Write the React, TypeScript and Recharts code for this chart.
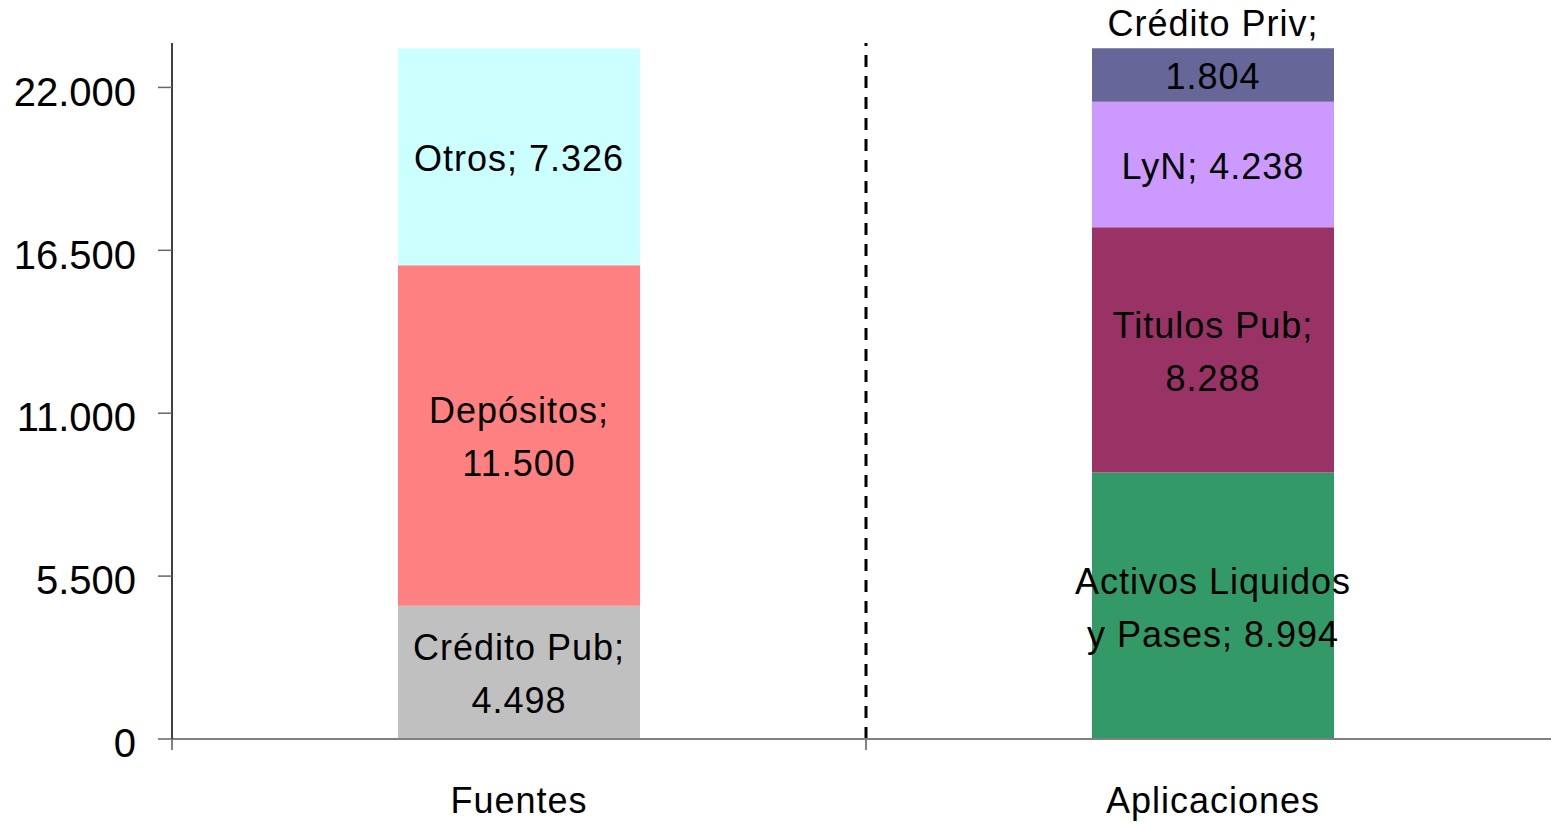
import { BarChart, Bar, XAxis, YAxis, ReferenceLine, LabelList } from 'recharts';

const categories = ['Fuentes', 'Aplicaciones'];

const fuentesSeries = ['Crédito Pub', 'Depósitos', 'Otros'];
const fuentesValues = [4498, 11500, 7326];
const fuentesColors = ['#C0C0C0', '#FF8080', '#CCFFFF'];

const aplicacionesSeries = ['Activos Liquidos y Pases', 'Titulos Pub', 'LyN', 'Crédito Priv'];
const aplicacionesValues = [8994, 8288, 4238, 1804];
const aplicacionesColors = ['#339966', '#993366', '#CC99FF', '#666699'];

// words kept on the first line of each data label (0 = single line)
const fuentesWrap = [2, 1, 0];
const aplicacionesWrap = [2, 2, 0, 2];

const yTicks = [0, 5500, 11000, 16500, 22000];

const fmt = (v: number) => String(v).replace(/\B(?=(\d{3})+(?!\d))/g, '.');

type Serie = { name: string; color: string; wrap: number };

const series: Serie[] = [
  ...fuentesSeries.map((name, i) => ({ name, color: fuentesColors[i], wrap: fuentesWrap[i] })),
  ...aplicacionesSeries.map((name, i) => ({ name, color: aplicacionesColors[i], wrap: aplicacionesWrap[i] })),
];

const data = categories.map((cat, ci) => {
  const row: Record<string, string | number> = { name: cat };
  fuentesSeries.forEach((s, i) => (row[s] = ci === 0 ? fuentesValues[i] : 0));
  aplicacionesSeries.forEach((s, i) => (row[s] = ci === 1 ? aplicacionesValues[i] : 0));
  return row;
});

const LINE_H = 53;

const makeLabel = (s: Serie) => (props: any) => {
  const x = Number(props.x ?? props.viewBox?.x);
  const y = Number(props.y ?? props.viewBox?.y);
  const width = Number(props.width ?? props.viewBox?.width);
  const height = Number(props.height ?? props.viewBox?.height);
  const raw = props.value;
  const v = Array.isArray(raw) ? raw[1] - raw[0] : Number(raw);
  if (!v) return null;
  const words = `${s.name}; ${fmt(v)}`.split(' ');
  const lines = s.wrap
    ? [words.slice(0, s.wrap).join(' '), words.slice(s.wrap).join(' ')]
    : [words.join(' ')];
  const cx = x + width / 2;
  const cy = y + height / 2;
  let first = cy - ((lines.length - 1) * LINE_H) / 2;
  // label taller than its segment: keep the last line in the middle
  if (lines.length * LINE_H > height) first = cy - (lines.length - 1) * LINE_H;
  return (
    <text textAnchor="middle" fontSize={36} letterSpacing={1} fill="#000">
      {lines.map((l, i) => (
        <tspan key={i} x={cx} y={first + i * LINE_H} dy="0.4em">
          {l}
        </tspan>
      ))}
    </text>
  );
};

// category label in the middle, tick mark at the start of each band
const CategoryTick = (props: any) => {
  const { x, y, payload } = props;
  const off = Number(payload?.offset ?? 0);
  return (
    <g>
      <line x1={x - off} x2={x - off} y1={y - 48} y2={y - 37} stroke="#808080" strokeWidth={2} />
      <text x={x} y={y} dy="0.71em" textAnchor="middle" fontSize={36} letterSpacing={1} fill="#000">
        {payload.value}
      </text>
    </g>
  );
};

export default function App() {
  return (
    <div
      style={{
        position: 'absolute',
        left: 0,
        top: 0,
        width: 1551,
        height: 825,
        overflow: 'hidden',
        background: '#fff',
        fontFamily: '"Liberation Sans", Arial, sans-serif',
      }}
    >
      <BarChart
        width={1560}
        height={825}
        data={data}
        margin={{ top: 43, right: 0, bottom: 0, left: 0 }}
      >
        <XAxis
          dataKey="name"
          tickLine={false}
          tickSize={0}
          tickMargin={48}
          height={86}
          axisLine={{ stroke: '#808080', strokeWidth: 2 }}
          tick={<CategoryTick />}
        />
        <YAxis
          domain={[0, 23500]}
          ticks={yTicks}
          tickFormatter={fmt}
          width={172}
          tickSize={14}
          tickMargin={22}
          axisLine={{ stroke: '#000', strokeWidth: 1.5 }}
          tickLine={{ stroke: '#666', strokeWidth: 1.5 }}
          tick={{ fill: '#000', fontSize: 40, dy: 4 }}
        />
        {series.map((s) => (
          <Bar
            key={s.name}
            dataKey={s.name}
            stackId="total"
            fill={s.color}
            barSize={242}
            isAnimationActive={false}
          >
            <LabelList dataKey={s.name} content={makeLabel(s)} />
          </Bar>
        ))}
        <ReferenceLine
          x="Aplicaciones"
          position="start"
          stroke="#000"
          strokeWidth={3}
          strokeDasharray="12 9"
        />
      </BarChart>
    </div>
  );
}
